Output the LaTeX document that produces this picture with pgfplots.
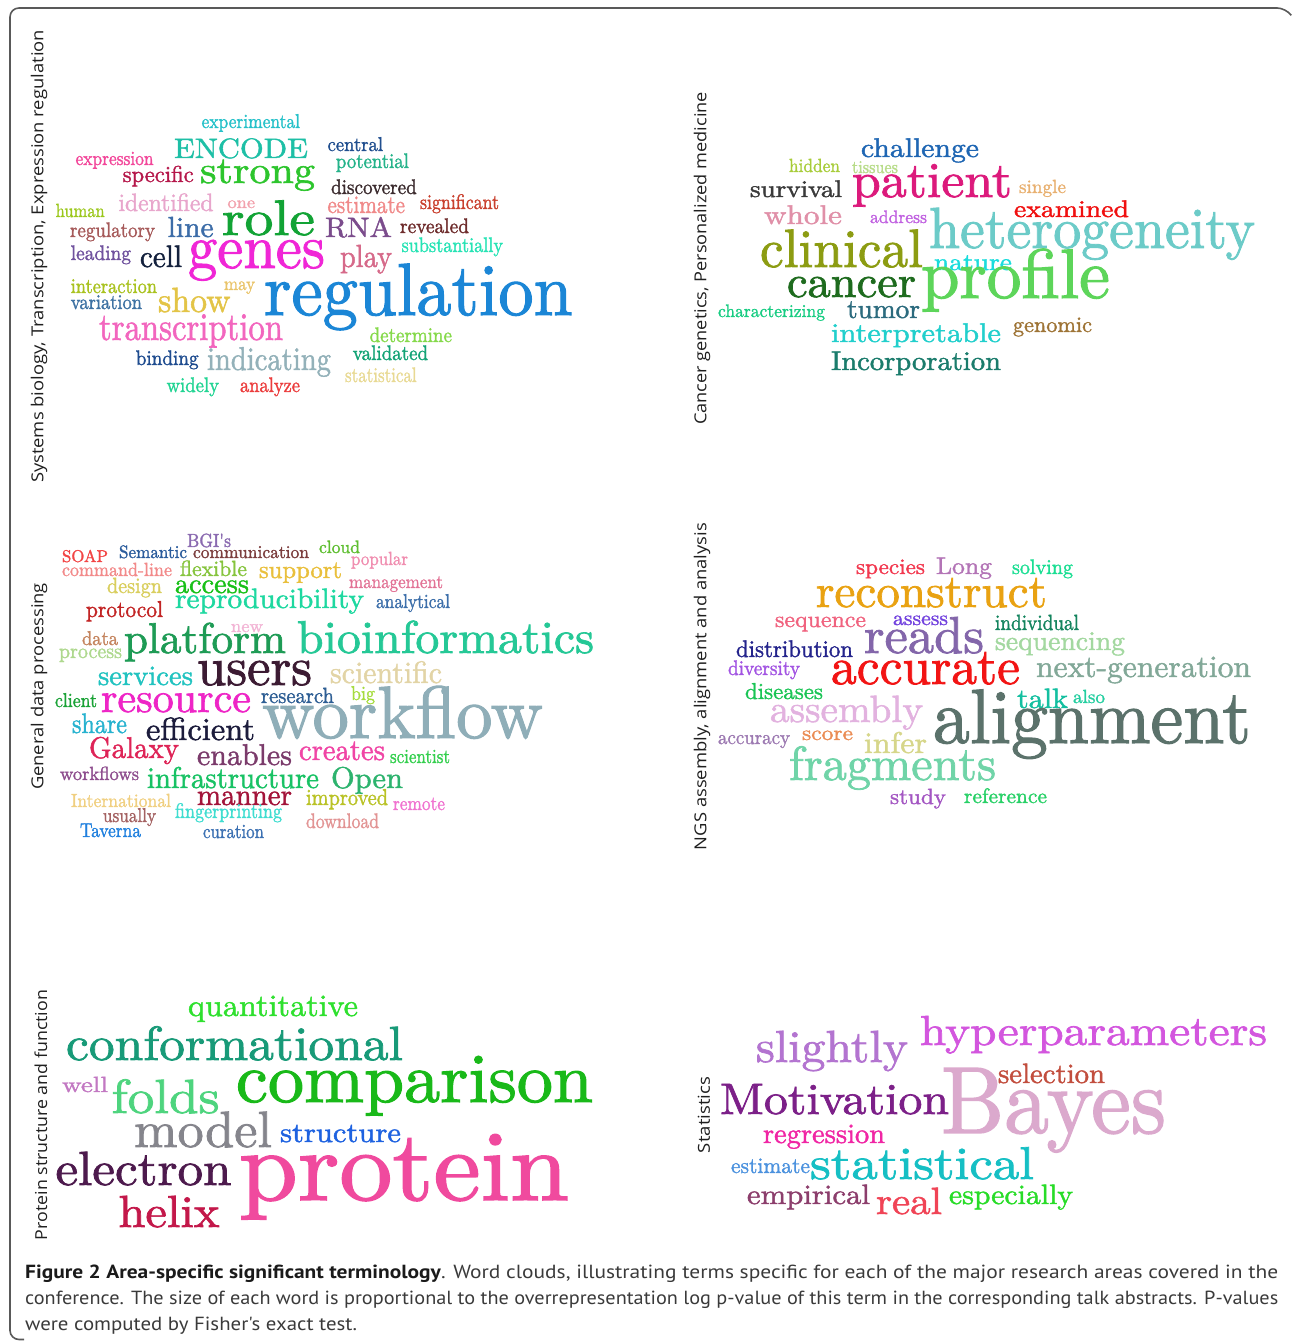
\documentclass[border=0pt]{standalone}
\usepackage{fontspec}
\usepackage{graphicx}
\usepackage{pgfplots}
\pgfplotsset{compat=1.18}
\newfontfamily\cloudfont{lmroman10-regular.otf}[FakeBold=1.5]
\newfontfamily\labelfont{Open Sans}
\newfontfamily\capfont{PT Sans}
% width (bp), font size (bp), colour (HTML), word
\protected\def\W#1#2#3#4{\resizebox{#1bp}{\height}{\cloudfont\fontsize{#2bp}{#2bp}\selectfont\color[HTML]{#3}#4}}

\begin{document}
\begin{tikzpicture}
\begin{axis}[
  width=1292bp, height=1341bp, scale only axis,
  xmin=0, xmax=1292, ymin=0, ymax=1341,
  hide axis, clip=false,
]
\addplot[draw=none, forget plot] coordinates {(0,0) (1292,1341)};
\addplot[forget plot, line width=1.6bp, draw=black!65, rounded corners=9bp]
  coordinates {(24,1.5) (10,1.5) (10,1333) (1286,1333) (1291,1326)};
\addplot[only marks, mark=none, point meta=explicit symbolic,
  nodes near coords={\pgfplotspointmeta},
  every node near coord/.append style={anchor=base, inner sep=0pt, outer sep=0pt},
] coordinates {
(250.8,1213) [\W{98.4}{20}{26C1C9}{experimental}]
(241,1183) [\W{134}{28}{1EBFA6}{ENCODE}]
(355.3,1190) [\W{55.5}{20}{214F8F}{central}]
(114.6,1176) [\W{78}{20}{F2479A}{expression}]
(372.4,1173) [\W{73}{21}{25B38A}{potential}]
(158.2,1159) [\W{71}{23}{B5174A}{specific}]
(257.5,1158) [\W{115}{38}{2DC52D}{strong}]
(373.9,1147) [\W{85.7}{21}{3B2B2E}{discovered}]
(166,1130) [\W{95}{25}{E8A6CC}{identified}]
(241.3,1133) [\W{27.5}{17}{F2A3AE}{one}]
(268.5,1106) [\W{93}{50}{12A335}{role}]
(366.3,1128) [\W{77.5}{25}{F08A8A}{estimate}]
(459.5,1132) [\W{79}{21}{C9402E}{significant}]
(80.2,1124) [\W{49}{19}{9BC71C}{human}]
(112.5,1104) [\W{85}{21}{A65A5A}{regulatory}]
(190.7,1104) [\W{46}{29}{3D6DA8}{line}]
(358.5,1104) [\W{67}{28}{7B4C8C}{RNA}]
(434.5,1108) [\W{69}{21}{6E2C2C}{revealed}]
(452.3,1089) [\W{101.4}{21}{26E3B4}{substantially}]
(100.9,1081) [\W{60.3}{21}{70529E}{leading}]
(161,1074) [\W{42}{31}{14213D}{cell}]
(256.5,1073) [\W{137}{62}{F026D6}{genes}]
(366,1074) [\W{52}{32}{D66A8A}{play}]
(113.9,1048) [\W{86.3}{21}{A9C21F}{interaction}]
(239.5,1051) [\W{31}{19}{E9C46A}{may}]
(418.3,1026) [\W{308.6}{74}{1B86D6}{regulation}]
(106.4,1032) [\W{71.3}{21}{3E72A3}{variation}]
(194.3,1029) [\W{72.5}{35}{E3C447}{show}]
(191,1001) [\W{184}{39}{F266BE}{transcription}]
(410.8,999) [\W{82.4}{21}{85D94A}{determine}]
(390.4,981) [\W{75.3}{21}{14A376}{validated}]
(167.2,976) [\W{62.8}{21}{1F4C8F}{binding}]
(269,971) [\W{124}{33}{93B1B9}{indicating}]
(380.8,959) [\W{71.6}{21}{E8D993}{statistical}]
(192.8,949) [\W{52.4}{21}{22D493}{widely}]
(270,949) [\W{60}{21}{EB3D3D}{analyze}]
(920,1184) [\W{118}{27}{1F66B3}{challenge}]
(814.5,1169) [\W{51}{19}{A8CC3A}{hidden}]
(875,1168) [\W{46}{18}{B8DC8A}{tissues}]
(796,1144) [\W{92}{24}{3A3A3A}{survival}]
(932,1144) [\W{160}{50}{DC1A7C}{patient}]
(1042.5,1148) [\W{47}{19}{E8B070}{single}]
(803,1117) [\W{78}{27}{E090A8}{whole}]
(898.5,1118) [\W{57}{18}{C060E0}{address}]
(1071.5,1124) [\W{115}{24}{F01010}{examined}]
(1092,1093) [\W{326}{58}{6CCBC8}{heterogeneity}]
(841.5,1074) [\W{163}{54}{8C9C12}{clinical}]
(973,1071) [\W{78}{24}{1ADCDC}{nature}]
(851.5,1044) [\W{129}{45}{1E6B1E}{cancer}]
(1015.5,1043) [\W{189}{70}{5DD55A}{profile}]
(771.5,1024) [\W{107}{18}{17CC82}{characterizing}]
(883.5,1023) [\W{73}{27}{2C6B7E}{tumor}]
(1052.5,1009) [\W{79}{22}{9E7436}{genomic}]
(916,999) [\W{170}{27}{22CFCC}{interpretable}]
(916,971) [\W{170}{27}{1B7C6C}{Incorporation}]
(209,794) [\W{44}{19}{8A6AB0}{BGI's}]
(85,779) [\W{46}{17}{F24444}{SOAP}]
(153,783) [\W{68}{18}{2B5C9C}{Semantic}]
(251,783) [\W{116}{18}{7C3E3E}{communication}]
(339.5,788) [\W{41}{18}{5EBE30}{cloud}]
(379.5,776) [\W{57}{19}{F08EB0}{popular}]
(117,765) [\W{110}{19}{F28A8A}{command-line}]
(213.5,765) [\W{67}{22}{86C43E}{flexible}]
(300.5,763) [\W{83}{25}{E9BF3C}{support}]
(134.5,748) [\W{55}{22}{D9CE5E}{design}]
(212,748) [\W{74}{28}{18C018}{access}]
(396,753) [\W{94}{19}{E27396}{management}]
(124.5,724) [\W{77}{23}{C22424}{protocol}]
(269.5,733) [\W{189}{28}{1ED8A0}{reproducibility}]
(413,733) [\W{74}{20}{3D6FAA}{analytical}]
(247,709) [\W{32}{18}{F2B5D5}{new}]
(100,696) [\W{36}{20}{C4845E}{data}]
(205,688) [\W{162}{43}{1E9B55}{platform}]
(445.5,688) [\W{297}{46}{25C896}{bioinformatics}]
(90.5,683) [\W{63}{21}{AED88E}{process}]
(145.5,656) [\W{95}{28}{22C3C0}{services}]
(254.5,656) [\W{115}{54}{3C1B33}{users}]
(386,658) [\W{112}{31}{E2D4A6}{scientific}]
(76,634) [\W{42}{20}{1AA236}{client}]
(176,629) [\W{150}{42}{EE25C6}{resource}]
(297.5,638) [\W{73}{22}{2E5E94}{research}]
(363,641) [\W{24}{20}{A6DC3E}{big}]
(402.5,603) [\W{281}{74}{8FAEB8}{workflow}]
(99.5,608) [\W{55}{28}{27B2CF}{share}]
(200.5,601) [\W{109}{32}{1C1C3C}{efficient}]
(134,583) [\W{90}{30}{DE2457}{Galaxy}]
(244.5,576) [\W{95}{30}{7B3B6B}{enables}]
(342,581) [\W{86}{30}{F045A5}{creates}]
(420,578) [\W{60}{20}{34CF4E}{scientist}]
(99.5,561) [\W{79}{19}{8E4E8E}{workflows}]
(233,553) [\W{172}{30}{18C264}{infrastructure}]
(367,553) [\W{72}{30}{2DB36E}{Open}]
(121,534) [\W{100}{19}{F0CF80}{International}]
(244.5,536) [\W{95}{30}{A3143A}{manner}]
(347,536) [\W{82}{23}{B9C226}{improved}]
(419,531) [\W{52}{20}{F074D0}{remote}]
(129.5,519) [\W{53}{20}{A46262}{usually}]
(228.5,523) [\W{107}{21}{40DDD0}{fingerprinting}]
(342.5,513) [\W{73}{21}{E29494}{download}]
(110.5,504) [\W{61}{20}{2080DE}{Taverna}]
(233.5,503) [\W{61}{20}{3B70B2}{curation}]
(890.5,767) [\W{69}{22}{F2384F}{species}]
(964,767) [\W{56}{24}{B374B6}{Long}]
(1042.5,767) [\W{61}{21}{1BDE93}{solving}]
(931.5,734) [\W{231}{47}{E9A212}{reconstruct}]
(820.5,714) [\W{91}{23}{F0637F}{sequence}]
(920.5,716) [\W{55}{21}{7242DE}{assess}]
(1037,711) [\W{84}{22}{14845E}{individual}]
(924,688) [\W{120}{52}{8366AA}{reads}]
(1060,691) [\W{130}{27}{A3D8A0}{sequencing}]
(794.5,684) [\W{117}{24}{24248C}{distribution}]
(764,666) [\W{72}{21}{A254E2}{diversity}]
(925.5,657) [\W{189}{52}{F21414}{accurate}]
(1143.5,664) [\W{215}{31}{82A898}{next-generation}]
(784,642) [\W{78}{23}{1AC455}{diseases}]
(1042.5,633) [\W{51}{28}{14BFA0}{talk}]
(1089,638) [\W{32}{19}{24CEA0}{also}]
(846.5,619) [\W{153}{38}{E2B2DF}{assembly}]
(1092,598) [\W{318}{77}{5B726B}{alignment}]
(754,597) [\W{72}{20}{9D7AB2}{accuracy}]
(827.5,601) [\W{51}{21}{EA8C54}{score}]
(895.5,588) [\W{63}{30}{D6D68A}{infer}]
(892.5,561) [\W{207}{48}{70D4A8}{fragments}]
(918,537) [\W{56}{22}{A356C2}{study}]
(1005.5,538) [\W{83}{21}{27D066}{reference}]
(273,325) [\W{170}{31}{2FE02F}{quantitative}]
(234.5,281) [\W{337}{48}{189A78}{conformational}]
(85,249) [\W{46}{22}{C278C2}{well}]
(414.5,239) [\W{357}{70}{19B919}{comparison}]
(165.5,228) [\W{108}{48}{4ED47E}{folds}]
(203,194) [\W{138}{51}{85858C}{model}]
(340.5,199) [\W{121}{28}{1E62E0}{structure}]
(143.5,156) [\W{176}{48}{4D1A4D}{electron}]
(404,141) [\W{330}{100}{F04A9E}{protein}]
(169,114) [\W{101}{45}{C3184A}{helix}]
(832,279) [\W{152}{45}{B374D0}{slightly}]
(1093.5,296) [\W{347}{42}{D356DE}{hyperparameters}]
(1051.5,258) [\W{107}{28}{C24E3E}{selection}]
(834.5,227) [\W{229}{44}{7C2088}{Motivation}]
(1053.5,208) [\W{225}{95}{DBA9CD}{Bayes}]
(824,198) [\W{122}{28}{F026A4}{regression}]
(770.5,168) [\W{79}{22}{4C92DE}{estimate}]
(922,162) [\W{224}{46}{16BFC4}{statistical}]
(808.5,137) [\W{123}{28}{8C3E6C}{empirical}]
(909,127) [\W{66}{38}{F04456}{real}]
(1011,137) [\W{124}{28}{28DC28}{especially}]
};

% area labels
\node[rotate=90, inner sep=0pt, text=black!88] at (axis cs:39,1084.5)
  {\resizebox{453bp}{\height}{\labelfont\fontsize{16.5bp}{16.5bp}\selectfont Systems biology, Transcription, Expression regulation}};
\node[rotate=90, inner sep=0pt, text=black!88] at (axis cs:702,1082.5)
  {\resizebox{333bp}{\height}{\labelfont\fontsize{16.5bp}{16.5bp}\selectfont Cancer genetics, Personalized medicine}};
\node[rotate=90, inner sep=0pt, text=black!88] at (axis cs:39,654.5)
  {\resizebox{207bp}{\height}{\labelfont\fontsize{16.5bp}{16.5bp}\selectfont General data processing}};
\node[rotate=90, inner sep=0pt, text=black!88] at (axis cs:702,654.5)
  {\resizebox{327bp}{\height}{\labelfont\fontsize{16.5bp}{16.5bp}\selectfont NGS assembly, alignment and analysis}};
\node[rotate=90, inner sep=0pt, text=black!88] at (axis cs:41,226)
  {\resizebox{250bp}{\height}{\labelfont\fontsize{16.5bp}{16.5bp}\selectfont Protein structure and function}};
\node[rotate=90, inner sep=0pt, text=black!88] at (axis cs:704,226)
  {\resizebox{76bp}{\height}{\labelfont\fontsize{16.5bp}{16.5bp}\selectfont Statistics}};

% caption
\node[anchor=base west, inner sep=0pt] at (axis cs:25,62)
  {\resizebox{1253bp}{\height}{\capfont\fontsize{19bp}{19bp}\selectfont\color[HTML]{1A1A1A}\textbf{Figure 2 Area-specific significant terminology}\color[HTML]{3A3A3A}. Word clouds, illustrating terms specific for each of the major research areas covered in the}};
\node[anchor=base west, inner sep=0pt] at (axis cs:25,36)
  {\resizebox{1253bp}{\height}{\capfont\fontsize{19bp}{19bp}\selectfont\color[HTML]{3A3A3A}conference. The size of each word is proportional to the overrepresentation log p-value of this term in the corresponding talk abstracts. P-values}};
\node[anchor=base west, inner sep=0pt] at (axis cs:25,10)
  {\resizebox{332bp}{\height}{\capfont\fontsize{19bp}{19bp}\selectfont\color[HTML]{3A3A3A}were computed by Fisher's exact test.}};
\end{axis}
\end{tikzpicture}
\end{document}
